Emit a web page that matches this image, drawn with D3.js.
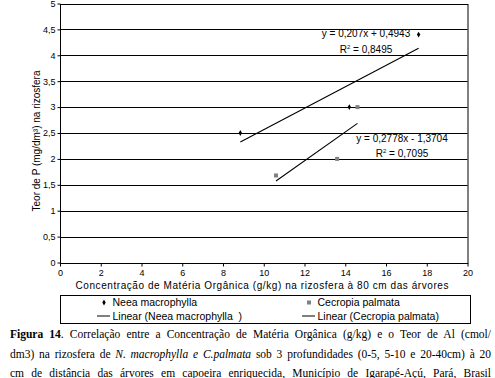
<!DOCTYPE html>
<html>
<head>
<meta charset="utf-8">
<script src="https://cdn.jsdelivr.net/npm/d3@7"></script>
<style>
  html, body { margin: 0; padding: 0; background: #fff; }
  #wrap { position: relative; width: 495px; height: 378px; overflow: hidden; }
  #caption {
    position: absolute; left: 10px; top: 325px; width: 481px;
    font-family: "Liberation Serif", "Times New Roman", serif;
    font-size: 11.5px; line-height: 19.5px; color: #000;
    text-align: justify; text-align-last: justify; white-space: nowrap;
  }
</style>
</head>
<body>
<div id="wrap">
  <svg id="chart" width="495" height="330"></svg>
  <div id="caption">
    <b>Figura 14</b>. Correlação entre a Concentração de Matéria Orgânica (g/kg) e o Teor de Al (cmol/<br>
    dm3) na rizosfera de <i>N. macrophylla e C.palmata</i> sob 3 profundidades (0-5, 5-10 e 20-40cm) à 20<br>
    cm de distância das árvores em capoeira enriquecida, Município de Igarapé-Açú, Pará, Brasil
  </div>
</div>
<script>
// Scatter with linear trendlines, two species

const neeaX = [8.85, 14.2, 17.6];
const neeaY = [2.5, 3.0, 4.4];
const cecropiaX = [10.6, 13.6, 14.6];
const cecropiaY = [1.68, 2.0, 3.0];

const neeaFit = { slope: 0.207, intercept: 0.4943, eq: 'y = 0,207x + 0,4943', r2: '0,8495' };
const cecropiaFit = { slope: 0.2778, intercept: -1.3704, eq: 'y = 0,2778x - 1,3704', r2: '0,7095' };

const xTicks = [0, 2, 4, 6, 8, 10, 12, 14, 16, 18, 20];
const yTicks = [0, 0.5, 1, 1.5, 2, 2.5, 3, 3.5, 4, 4.5, 5];

const svg = d3.select('#chart');
const font = '"Liberation Sans", Arial, sans-serif';

const x = d3.scaleLinear().domain([0, 20]).range([60, 467.5]);
const y = d3.scaleLinear().domain([0, 5]).range([262.5, 3.5]);
const fmt = v => String(v).replace('.', ',');

// gridlines
svg.append('g')
    .selectAll('line')
    .data(yTicks.filter(v => v > 0))
    .enter()
    .append('line')
    .attr('x1', x(0)).attr('x2', x(20))
    .attr('y1', d => Math.round(y(d)) + 0.5).attr('y2', d => Math.round(y(d)) + 0.5)
    .style('stroke', '#000').style('stroke-width', 1);

// plot frame
svg.append('rect')
    .attr('x', x(0) + 0.5).attr('y', Math.round(y(5)) + 0.5)
    .attr('width', x(20) - x(0)).attr('height', Math.round(y(0)) - Math.round(y(5)))
    .style('fill', 'none').style('stroke', '#000');

// axes
const yAxis = svg.append('g')
    .attr('transform', `translate(${x(0) + 0.5},0)`)
    .call(d3.axisLeft(y).tickValues(yTicks).tickFormat(fmt).tickSize(3).tickPadding(2));
const xAxis = svg.append('g')
    .attr('transform', `translate(0,${Math.round(y(0)) + 0.5})`)
    .call(d3.axisBottom(x).tickValues(xTicks).tickSize(3).tickPadding(3));
[yAxis, xAxis].forEach(a => {
    a.select('.domain').remove();
    a.selectAll('text').style('font-family', font).style('font-size', '9px').style('fill', '#000');
    a.selectAll('line').style('stroke', '#000');
});

// axis titles
svg.append('text')
    .attr('transform', 'translate(40,141) rotate(-90)')
    .attr('text-anchor', 'middle')
    .style('font-family', font).style('font-size', '10px')
    .text('Teor de P (mg/dm³) na rizosfera');

svg.append('text')
    .attr('x', 262).attr('y', 289)
    .attr('text-anchor', 'middle')
    .attr('textLength', 373).attr('lengthAdjust', 'spacing')
    .style('font-family', font).style('font-size', '10px')
    .text('Concentração de Matéria Orgânica (g/kg) na rizosfera à 80 cm das árvores');

// trendlines
function trend(xs, fit) {
    const x0 = d3.min(xs), x1 = d3.max(xs);
    svg.append('line')
        .attr('x1', x(x0)).attr('y1', y(fit.slope * x0 + fit.intercept))
        .attr('x2', x(x1)).attr('y2', y(fit.slope * x1 + fit.intercept))
        .style('stroke', '#000').style('stroke-width', 1.1);
}
trend(neeaX, neeaFit);
trend(cecropiaX, cecropiaFit);

// points
const diamond = d3.symbol().type(d3.symbolDiamond).size(10);
svg.append('g')
    .selectAll('path')
    .data(neeaX.map((v, i) => [v, neeaY[i]]))
    .enter()
    .append('path')
    .attr('d', diamond)
    .attr('transform', d => `translate(${x(d[0])},${y(d[1])})`)
    .style('fill', '#000');

svg.append('g')
    .selectAll('rect')
    .data(cecropiaX.map((v, i) => [v, cecropiaY[i]]))
    .enter()
    .append('rect')
    .attr('x', d => x(d[0]) - 2).attr('y', d => y(d[1]) - 2)
    .attr('width', 4).attr('height', 4)
    .style('fill', '#808080');

// equation labels
function eqLabel(fit, cx, y1, y2) {
    svg.append('text')
        .attr('x', cx).attr('y', y1).attr('text-anchor', 'middle')
        .style('font-family', font).style('font-size', '10px')
        .text(fit.eq);
    const t = svg.append('text')
        .attr('x', cx).attr('y', y2).attr('text-anchor', 'middle')
        .style('font-family', font).style('font-size', '10px');
    t.append('tspan').text('R');
    t.append('tspan').attr('dy', -4).style('font-size', '6px').text('2');
    t.append('tspan').attr('dy', 4).text(' = ' + fit.r2);
}
eqLabel(neeaFit, 366, 37, 53);
eqLabel(cecropiaFit, 402, 142, 157);

// legend
const legend = svg.append('g');
legend.append('rect')
    .attr('x', 60.5).attr('y', 295.5).attr('width', 410).attr('height', 28)
    .style('fill', '#fff').style('stroke', '#000');

const legendItems = [
    { kind: 'diamond', label: 'Neea macrophylla', lx: 104, ly: 306 },
    { kind: 'square', label: 'Cecropia palmata', lx: 309, ly: 306 },
    { kind: 'line', label: 'Linear (Neea macrophylla  )', lx: 104, ly: 319.5 },
    { kind: 'line', label: 'Linear (Cecropia palmata)', lx: 309, ly: 319.5 }
];
legendItems.forEach(d => {
    const mid = d.ly - 3.5;
    if (d.kind === 'diamond') {
        legend.append('path').attr('d', diamond)
            .attr('transform', `translate(${d.lx},${mid})`).style('fill', '#000');
    } else if (d.kind === 'square') {
        legend.append('rect').attr('x', d.lx - 2).attr('y', mid - 2)
            .attr('width', 4).attr('height', 4).style('fill', '#808080');
    } else {
        legend.append('line')
            .attr('x1', d.lx - 7).attr('x2', d.lx + 6)
            .attr('y1', mid).attr('y2', mid)
            .style('stroke', '#000');
    }
    legend.append('text')
        .attr('x', d.lx + 8.5).attr('y', d.ly)
        .style('font-family', font).style('font-size', '10.5px')
        .style('white-space', 'pre')
        .text(d.label);
});
</script>
</body>
</html>
